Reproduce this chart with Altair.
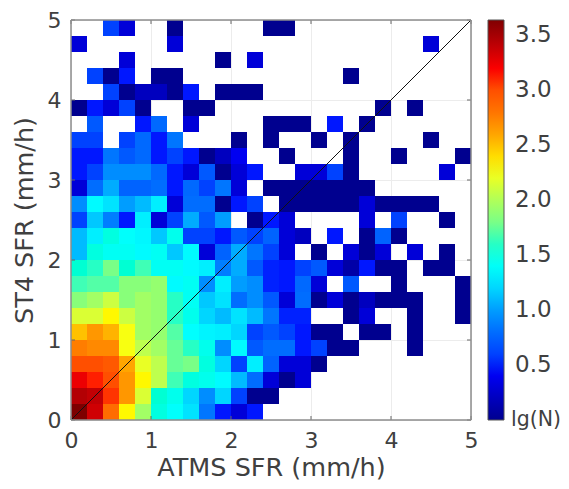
import altair as alt
import pandas as pd

BIN = 0.2
# lg(N) per row, from the bottom row (y=0) upward; None = empty cell
rows = [
 [3.65,3.35,2.85,2.3,1.95,1.5,1.38,1.25,.85,.48,.3,.48,None],
 [3.45,3.4,3.1,2.65,2.15,1.55,1.45,1.2,.95,1.2,.6,0,0],
 [3.25,3.15,3.0,2.65,2.3,2.05,1.65,1.5,1.45,1.35,1.1,.8,.3,0,.3],
 [3.0,3.0,2.95,2.6,2.2,2.05,1.75,1.8,1.5,1.2,.6,1.3,.75,.3,.3,0],
 [2.75,2.7,2.7,2.25,2.05,1.95,1.75,1.6,1.45,.95,1.35,.7,.8,.8,.48,.6,0,0,None,None,None,0],
 [2.5,2.65,2.55,2.25,1.95,1.9,1.7,1.37,1.32,1.3,1.2,.6,.7,.6,.48,0,0,None,0,0,None,0],
 [2.15,2.15,2.3,2.1,1.95,1.9,1.6,1.45,1.2,1.1,1.25,1.1,.85,.5,.5,None,None,0,.3,None,None,0,None,None,0],
 [1.85,1.95,2.1,1.85,1.95,1.9,1.6,1.42,1.15,1.25,.8,.95,.7,.3,.8,0,.3,0,.2,0,0,0,None,None,0],
 [1.65,1.7,1.7,1.85,1.85,1.9,1.35,1.42,.95,1.3,1.0,.95,.5,.48,.78,.3,None,.7,None,None,0,None,None,None,0],
 [1.55,1.6,1.8,1.55,1.65,1.42,1.42,1.35,1.3,.9,1.05,.7,.5,.48,.6,.7,.3,.1,.48,0,0,None,0,0],
 [1.1,1.5,1.42,1.42,1.35,1.42,1.15,1.35,.3,.75,1.05,.85,.6,.3,None,0,None,.3,0,.3,None,.3,None,0],
 [1.1,1.3,1.5,1.38,1.33,1.15,1.45,.6,.6,.48,.7,.6,.75,.3,.2,None,.48,None,0,.75,0],
 [.6,1.15,.9,.48,1.3,.3,.6,1.05,.7,1.0,None,0,.48,.3,None,None,None,None,.3,None,.6,None,None,0],
 [.95,1.35,1.25,1.0,1.1,1.3,.3,.8,.8,0,.48,.6,None,0,0,0,0,0,.3,0,0,0,0],
 [.3,.8,1.05,.75,.75,.8,.48,.78,.6,.85,.3,None,0,0,0,0,0,0,0],
 [.48,.6,.95,.95,.95,.78,.48,.3,.7,0,.3,.48,None,None,.3,.3,.6,0,None,None,None,None,None,.3],
 [.48,.48,.85,.7,.78,.48,.6,.48,0,.2,.4,None,None,0,None,None,None,0,None,None,0,None,None,None,0],
 [.6,.6,None,.6,.78,.48,.85,None,None,None,0,None,0,None,None,0,None,0,None,None,None,None,0],
 [None,.7,None,None,.48,.78,None,.3,None,None,None,None,0,0,0,None,.48,None,0],
 [0,.48,.3,.6,0,None,None,0,0,None,None,None,None,None,None,None,None,None,None,0,None,0],
 [None,None,.6,0,.2,.2,0,.48,None,0,0,0],
 [None,.6,0,.48,None,0,0,None,None,None,None,None,None,None,None,None,None,0],
 [None,None,None,.3,None,None,None,None,None,0,None,.3],
 [.3,None,None,None,None,None,.3,None,None,None,None,None,None,None,None,None,None,None,None,None,None,None,.3],
 [None,None,.6,.3,None,None,0,None,None,None,None,None,0,0],
]
jet = ["#00008f","#0000ff","#0080ff","#00ffff","#80ff80","#ffff00","#ff8000","#ff0000","#800000"]
cbar_ticks = [.5,1,1.5,2,2.5,3,3.5]
axis_ticks = [0,1,2,3,4,5]
line_x = [0,5]
cbar_bottom_label = ["lg(N)"]

recs = []
for r,row in enumerate(rows):
    for c,v in enumerate(row):
        if v is not None:
            recs.append(dict(x=c*BIN,x2=(c+1)*BIN,y=r*BIN,y2=(r+1)*BIN,v=v))
df = pd.DataFrame(recs)
TXT = "#404040"
FRAME = "#8c8c8c"
W = H = 400
scx = alt.Scale(domain=[0,5],nice=False)
scy = alt.Scale(domain=[0,5],nice=False)
base_axis = dict(values=axis_ticks,format="d",labelFontSize=22,labelColor=TXT,titleColor=TXT,labelFlush=False,
                 tickSize=0,domain=False,grid=True,gridColor="#ececec",gridWidth=1,
                 labelFont="DejaVu Sans",titleFont="DejaVu Sans",titleFontWeight="normal")
cells = alt.Chart(df).mark_rect().encode(
    x=alt.X("x:Q",scale=scx,title="ATMS SFR (mm/h)",axis=alt.Axis(**base_axis,labelPadding=10,titleFontSize=25.5,titlePadding=4)),
    x2="x2:Q",
    y=alt.Y("y:Q",scale=scy,title="ST4 SFR (mm/h)",axis=alt.Axis(**base_axis,labelPadding=10,titleFontSize=25.5,titlePadding=10)),
    y2="y2:Q",
    color=alt.Color("v:Q",scale=alt.Scale(domain=[0,3.64],range=jet),
        legend=alt.Legend(title=None,values=cbar_ticks,gradientLength=400,gradientThickness=16,
            labelFontSize=23,labelColor=TXT,labelFont="DejaVu Sans",format=".1f",
            offset=17,labelOverlap=False,gradientStrokeColor="#555555",gradientStrokeWidth=1,labelOffset=11)),
)
line = alt.Chart(pd.DataFrame({"x":line_x,"y":line_x})).mark_line(color="#111111",strokeWidth=1).encode(
    x=alt.X("x:Q",scale=scx),y=alt.Y("y:Q",scale=scy))
tk = pd.DataFrame({"t":axis_ticks})
def xt(y0,y1):
    return alt.Chart(tk).mark_rule(color="#666666",strokeWidth=1).encode(x=alt.X("t:Q",scale=scx),y=alt.value(y0),y2=alt.value(y1))
def yt(x0,x1):
    return alt.Chart(tk).mark_rule(color="#666666",strokeWidth=1).encode(y=alt.Y("t:Q",scale=scy),x=alt.value(x0),x2=alt.value(x1))
def frame(x0,x1,y0,y1):
    return alt.Chart(pd.DataFrame({"a":[0]})).mark_rule(color=FRAME,strokeWidth=1.5).encode(x=alt.value(x0),x2=alt.value(x1),y=alt.value(y0),y2=alt.value(y1))
lab = alt.Chart(pd.DataFrame({"s":cbar_bottom_label})).mark_text(align="left",baseline="middle",fontSize=20.5,font="DejaVu Sans",color=TXT).encode(
    text="s:N",x=alt.value(440),y=alt.value(H))
layers = [cells,line,xt(H-4,H),xt(0,4),yt(0,4),yt(W-4,W),
          frame(0,W,0,0),frame(0,W,H,H),frame(0,0,0,H),frame(W,W,0,H),lab]
chart = alt.layer(*layers).resolve_scale(x="shared",y="shared").properties(width=W,height=H,
    autosize=alt.AutoSizeParams(type="none"),padding={"left":63,"top":12,"right":90,"bottom":61}).configure_view(stroke=None)
chart.save("out.html",embed_options={"renderer":"svg","actions":False})
